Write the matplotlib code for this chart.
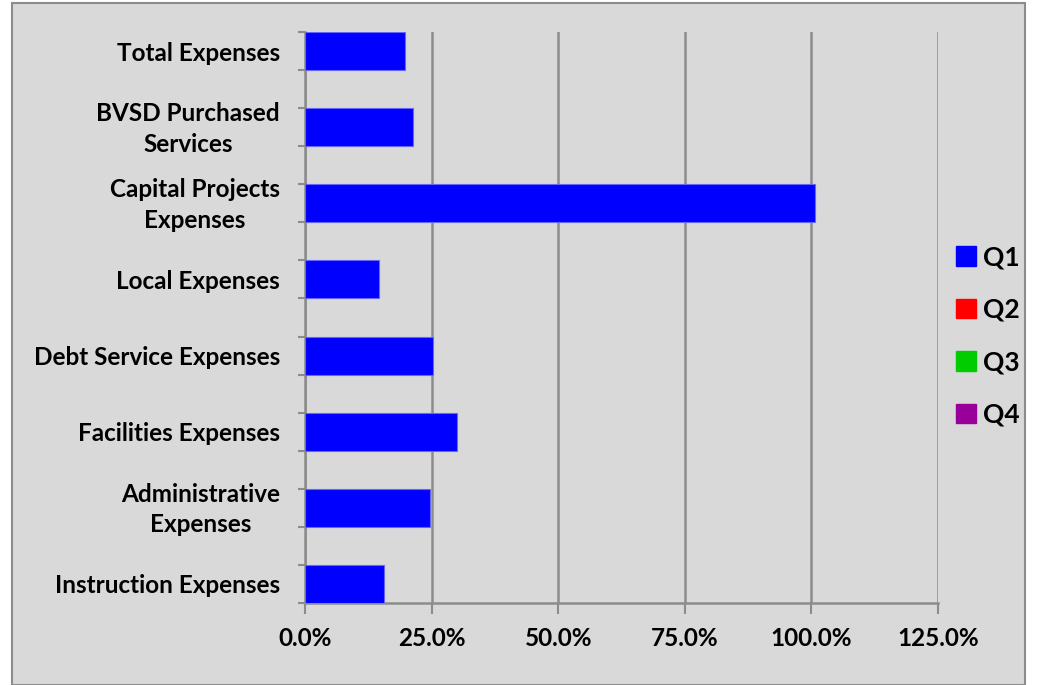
import matplotlib
matplotlib.use("Agg")
import matplotlib.pyplot as plt
from matplotlib.patches import Rectangle, Patch
from matplotlib.ticker import FixedLocator, FuncFormatter
from matplotlib.transforms import ScaledTranslation

categories = ["Total Expenses", "BVSD Purchased\nServices", "Capital Projects\nExpenses",
              "Local Expenses", "Debt Service Expenses", "Facilities Expenses",
              "Administrative\nExpenses", "Instruction Expenses"]
q1_values = [19.8, 21.4, 100.8, 14.7, 25.3, 30.0, 24.6, 15.6]
series_names = ["Q1", "Q2", "Q3", "Q4"]
series_colors = ["#0000ff", "#ff0000", "#00cc00", "#990099"]
x_ticks = [0, 25, 50, 75, 100, 125]

plt.rcParams['font.family'] = ['Lato', 'DejaVu Sans']
plt.rcParams['font.weight'] = 'bold'

fig = plt.figure(figsize=(10.4, 6.85), dpi=100)
fig.patch.set_facecolor('white')
fig.patches.append(Rectangle((12/1040, 0), (1025-12)/1040, 1-3/685, transform=fig.transFigure,
                             facecolor='#d9d9d9', edgecolor='#8c8c8c', linewidth=1.5, zorder=-5))

ax = fig.add_axes([305/1040, 1-603/685, (938-305)/1040, (603-32)/685])
ax.set_zorder(2)
ax.patch.set_alpha(0)

n = len(categories)
ypos = list(range(n))[::-1]
ax.barh(ypos, q1_values, height=0.5, color=series_colors[0], edgecolor='#6666ff', linewidth=0.8, zorder=3)

ax.set_xlim(0, 125)
ax.set_ylim(-0.25, n - 0.75)
ax.xaxis.set_major_locator(FixedLocator(x_ticks))
ax.xaxis.set_major_formatter(FuncFormatter(lambda v, p: f"{v:.1f}%"))
ax.grid(axis='x', color='#8c8c8c', linewidth=1.8, zorder=1)
ax.set_axisbelow(True)

ax.set_yticks(ypos)
ax.set_yticklabels(categories, multialignment='center', linespacing=1.4)
edges = sorted(set([y - 0.25 for y in ypos] + [y + 0.25 for y in ypos]))
ax.set_yticks(edges, minor=True)
ax.tick_params(axis='y', which='major', length=0, pad=18, labelsize=17.5)
ax.tick_params(axis='y', which='minor', length=5, width=1.5, color='#8c8c8c')
ax.tick_params(axis='x', which='major', length=8, width=1.5, color='#8c8c8c', pad=9, labelsize=17.5)
for lab in ax.get_yticklabels() + ax.get_xticklabels():
    lab.set_fontweight('bold')
shift = ScaledTranslation(0, 4/100, fig.dpi_scale_trans)
for lab in ax.get_yticklabels():
    if '\n' in lab.get_text():
        lab.set_transform(lab.get_transform() + shift)

for s in ['top', 'right']:
    ax.spines[s].set_visible(False)
for s in ['left', 'bottom']:
    ax.spines[s].set_color('#8c8c8c')
    ax.spines[s].set_linewidth(1.8)

handles = [Patch(facecolor=c, edgecolor=c, label=nm) for c, nm in zip(series_colors, series_names)]
leg = fig.legend(handles=handles, loc='upper left', bbox_to_anchor=(943/1040, 1-232/685),
                 frameon=False, prop={'weight': 'bold', 'size': 19}, handlelength=0.75,
                 handleheight=0.75, handletextpad=0.25, labelspacing=1.08, borderpad=0)

fig.savefig("out.png", dpi=100)
